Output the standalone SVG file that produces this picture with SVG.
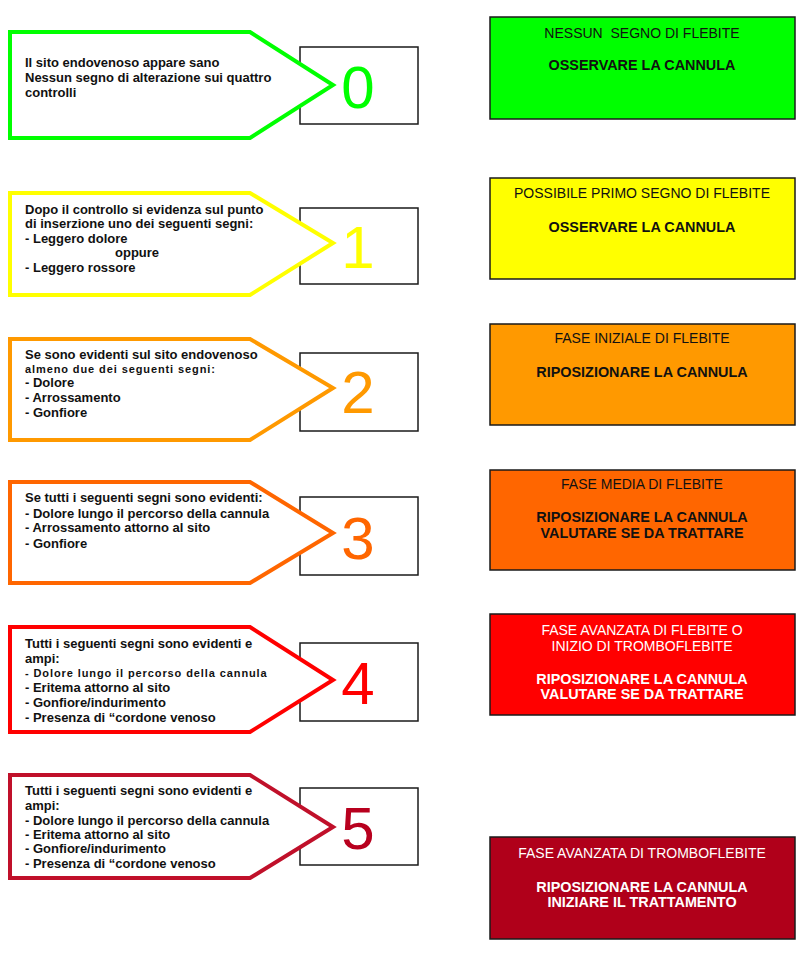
<svg xmlns="http://www.w3.org/2000/svg" width="810" height="954" viewBox="0 0 810 954">
<style>
  .arrow { fill: #ffffff; stroke-width: 4; stroke-linejoin: miter; }
  .numbox { fill: #ffffff; stroke: #1a1a1a; stroke-width: 1.5; }
  .num { font-family: "Liberation Sans", Arial, sans-serif; font-size: 60px; text-anchor: middle; }
  .desc { font-family: "Liberation Sans", Arial, sans-serif; font-size: 13px; font-weight: bold; fill: #111; }
  .desc .wide { font-size: 11px; letter-spacing: 0.9px; }
  .act { stroke: #1a1a1a; stroke-width: 1.5; }
  .title { font-family: "Liberation Sans", Arial, sans-serif; font-size: 14px; text-anchor: middle; white-space: pre; }
  .bold { font-family: "Liberation Sans", Arial, sans-serif; font-size: 14.4px; font-weight: bold; text-anchor: middle; }
  .dark { fill: #111; }
  .light { fill: #ffffff; }
</style>

<!-- Level 0 -->
<g id="level-0">
  <rect class="numbox" x="300" y="47" width="118" height="77"/>
  <path class="arrow" stroke="#00ff00" d="M10,32 H250 L333,85 L250,138 H10 Z"/>
  <text class="num" x="358" y="108" fill="#00ff00">0</text>
  <text class="desc">
    <tspan x="25" y="67">Il sito endovenoso appare sano</tspan>
    <tspan x="25" y="82">Nessun segno di alterazione sui quattro</tspan>
    <tspan x="25" y="97">controlli</tspan>
  </text>
</g>
<g id="action-0">
  <rect class="act" x="490" y="17" width="305" height="102" fill="#00ff00"/>
  <text class="title dark" x="642" y="38" xml:space="preserve">NESSUN  SEGNO DI FLEBITE</text>
  <text class="bold dark" x="642" y="70">OSSERVARE LA CANNULA</text>
</g>

<!-- Level 1 -->
<g id="level-1">
  <rect class="numbox" x="300" y="208" width="118" height="76"/>
  <path class="arrow" stroke="#ffff00" d="M10,193 H250 L333,243 L250,295 H10 Z"/>
  <text class="num" x="358" y="268" fill="#ffff00">1</text>
  <text class="desc">
    <tspan x="25" y="214">Dopo il controllo si evidenza sul punto</tspan>
    <tspan x="25" y="228">di inserzione uno dei seguenti segni:</tspan>
    <tspan x="25" y="243">- Leggero dolore</tspan>
    <tspan x="115" y="257">oppure</tspan>
    <tspan x="25" y="272">- Leggero rossore</tspan>
  </text>
</g>
<g id="action-1">
  <rect class="act" x="490" y="178" width="305" height="101" fill="#ffff00"/>
  <text class="title dark" x="642" y="198">POSSIBILE PRIMO SEGNO DI FLEBITE</text>
  <text class="bold dark" x="642" y="232">OSSERVARE LA CANNULA</text>
</g>

<!-- Level 2 -->
<g id="level-2">
  <rect class="numbox" x="300" y="353" width="118" height="78"/>
  <path class="arrow" stroke="#ff9900" d="M10,339 H250 L333,388 L250,440 H10 Z"/>
  <text class="num" x="358" y="413" fill="#ff9900">2</text>
  <text class="desc">
    <tspan x="25" y="359">Se sono evidenti sul sito endovenoso</tspan>
    <tspan x="25" y="373" class="wide">almeno due dei seguenti segni:</tspan>
    <tspan x="25" y="387">- Dolore</tspan>
    <tspan x="25" y="402">- Arrossamento</tspan>
    <tspan x="25" y="417">- Gonfiore</tspan>
  </text>
</g>
<g id="action-2">
  <rect class="act" x="490" y="324" width="305" height="101" fill="#ff9900"/>
  <text class="title dark" x="642" y="343">FASE INIZIALE DI FLEBITE</text>
  <text class="bold dark" x="642" y="377">RIPOSIZIONARE LA CANNULA</text>
</g>

<!-- Level 3 -->
<g id="level-3">
  <rect class="numbox" x="300" y="497" width="118" height="78"/>
  <path class="arrow" stroke="#ff6600" d="M10,482 H250 L333,533 L250,583 H10 Z"/>
  <text class="num" x="358" y="559" fill="#ff6600">3</text>
  <text class="desc">
    <tspan x="25" y="502">Se tutti i seguenti segni sono evidenti:</tspan>
    <tspan x="25" y="518">- Dolore lungo il percorso della cannula</tspan>
    <tspan x="25" y="532">- Arrossamento attorno al sito</tspan>
    <tspan x="25" y="548">- Gonfiore</tspan>
  </text>
</g>
<g id="action-3">
  <rect class="act" x="490" y="470" width="305" height="100" fill="#ff6600"/>
  <text class="title dark" x="642" y="489">FASE MEDIA DI FLEBITE</text>
  <text class="bold dark" x="642" y="522">RIPOSIZIONARE LA CANNULA</text>
  <text class="bold dark" x="642" y="538">VALUTARE SE DA TRATTARE</text>
</g>

<!-- Level 4 -->
<g id="level-4">
  <rect class="numbox" x="300" y="643" width="118" height="78"/>
  <path class="arrow" stroke="#ff0000" d="M10,627 H250 L333,680 L250,732 H10 Z"/>
  <text class="num" x="358" y="704" fill="#ff0000">4</text>
  <text class="desc">
    <tspan x="25" y="648">Tutti i seguenti segni sono evidenti e</tspan>
    <tspan x="25" y="663">ampi:</tspan>
    <tspan x="25" y="677" class="wide">- Dolore lungo il percorso della cannula</tspan>
    <tspan x="25" y="692">- Eritema attorno al sito</tspan>
    <tspan x="25" y="707">- Gonfiore/indurimento</tspan>
    <tspan x="25" y="722">- Presenza di “cordone venoso</tspan>
  </text>
</g>
<g id="action-4">
  <rect class="act" x="490" y="614" width="305" height="101" fill="#ff0000"/>
  <text class="title light" x="642" y="635">FASE AVANZATA DI FLEBITE O</text>
  <text class="title light" x="642" y="651">INIZIO DI TROMBOFLEBITE</text>
  <text class="bold light" x="642" y="684">RIPOSIZIONARE LA CANNULA</text>
  <text class="bold light" x="642" y="699">VALUTARE SE DA TRATTARE</text>
</g>

<!-- Level 5 -->
<g id="level-5">
  <rect class="numbox" x="300" y="788" width="118" height="77"/>
  <path class="arrow" stroke="#c0102a" d="M10,775 H250 L333,827 L250,878 H10 Z"/>
  <text class="num" x="358" y="849" fill="#b8001e">5</text>
  <text class="desc">
    <tspan x="25" y="795">Tutti i seguenti segni sono evidenti e</tspan>
    <tspan x="25" y="810">ampi:</tspan>
    <tspan x="25" y="825">- Dolore lungo il percorso della cannula</tspan>
    <tspan x="25" y="839">- Eritema attorno al sito</tspan>
    <tspan x="25" y="853">- Gonfiore/indurimento</tspan>
    <tspan x="25" y="868">- Presenza di “cordone venoso</tspan>
  </text>
</g>
<g id="action-5">
  <rect class="act" x="490" y="837" width="305" height="102" fill="#b0001a"/>
  <text class="title light" x="642" y="858">FASE AVANZATA DI TROMBOFLEBITE</text>
  <text class="bold light" x="642" y="892">RIPOSIZIONARE LA CANNULA</text>
  <text class="bold light" x="642" y="907">INIZIARE IL TRATTAMENTO</text>
</g>
</svg>
